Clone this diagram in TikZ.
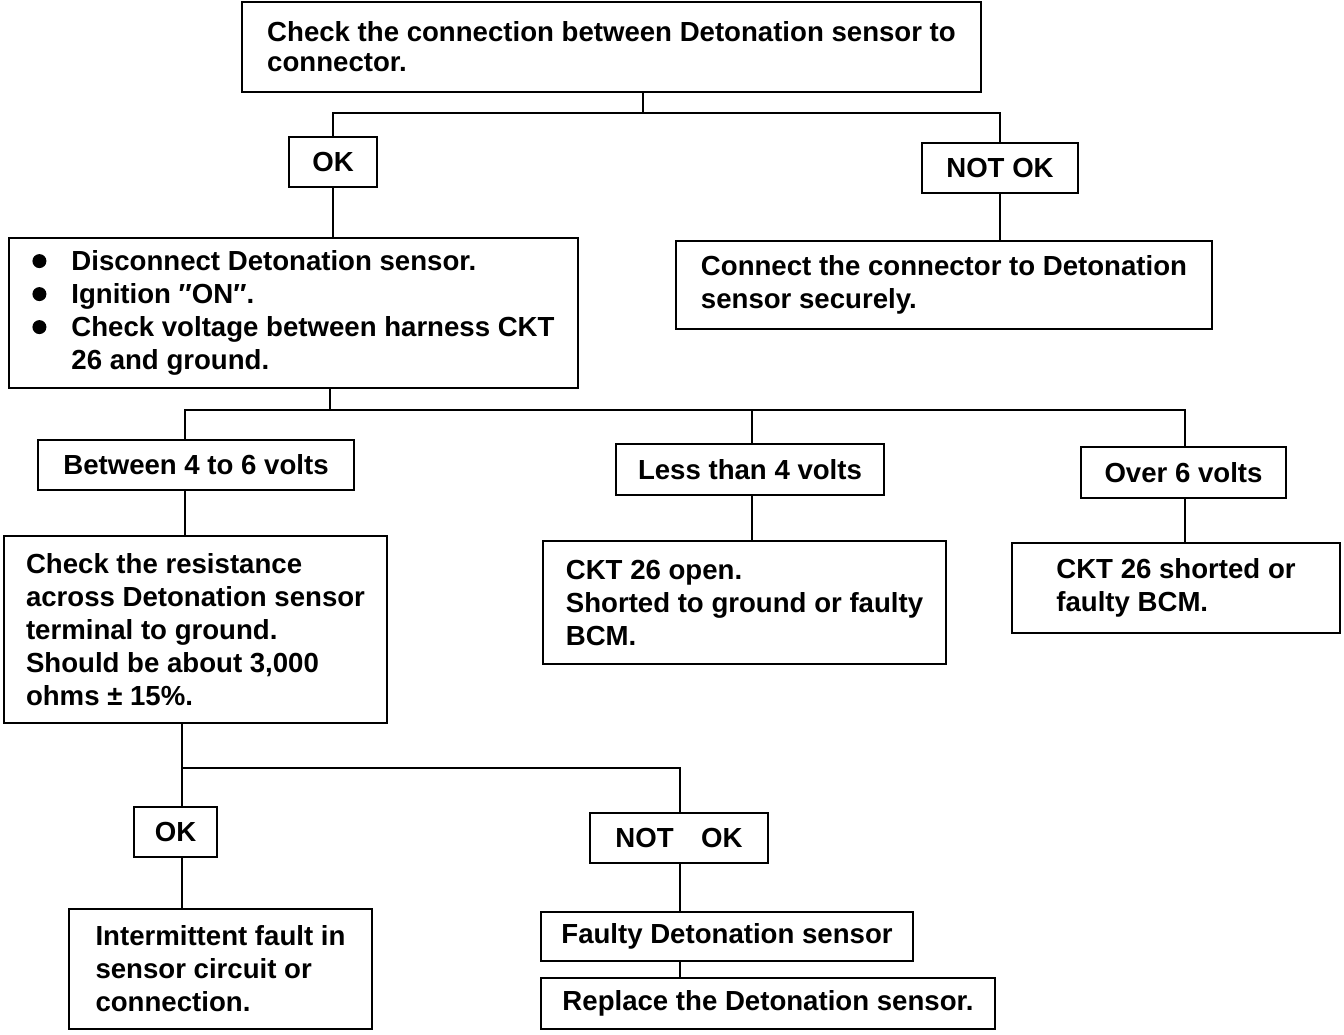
\documentclass[tikz,border=0pt]{standalone}
\usepackage{fontspec}
\setmainfont{Liberation Sans}
\newcommand{\bul}{\tikz[baseline=0pt]\fill (7pt,9pt) circle (7pt);}
\begin{document}
\begin{tikzpicture}[x=1pt,y=-1pt, line width=2.8pt,
  box/.style={draw, line width=2.8pt, inner sep=0pt, align=left,
    font=\fontsize{27.6}{33}\selectfont\bfseries},
]
\useasboundingbox (0,0) rectangle (1344,1034);

\node[box, minimum width=739, minimum height=90, font=\fontsize{27.6}{30}\selectfont\bfseries] (top) at (611.5,47)
  {Check the connection between Detonation sensor to\\connector.};
\node[box, minimum width=88, minimum height=50] (ok1) at (333,162) {OK};
\node[box, minimum width=156, minimum height=50] (nok1) at (1000,168) {NOT OK};

\node[box, minimum width=569, minimum height=150] (b5) at (293.5,313)
  {\begin{tabular}{@{}p{39pt}@{}l@{}}
   \bul & Disconnect Detonation sensor.\\
   \bul & Ignition ″ON″.\\
   \bul & Check voltage between harness CKT\\
        & 26 and ground.
   \end{tabular}};
\node[box, minimum width=536, minimum height=88] (b6) at (944,285)
  {Connect the connector to Detonation\\sensor securely.};

\node[box, minimum width=316, minimum height=50] (btw) at (196,465) {Between 4 to 6 volts};
\node[box, minimum width=268, minimum height=51] (less) at (750,469.5) {Less than 4 volts};
\node[box, minimum width=205, minimum height=51] (over) at (1183.5,472.5) {Over 6 volts};

\node[box, minimum width=383, minimum height=187] (b11) at (195.5,629.5)
  {Check the resistance\\across Detonation sensor\\terminal to ground.\\Should be about 3,000\\ohms ± 15\%.};
\node[box, minimum width=403, minimum height=123] (b12) at (744.5,602.5)
  {CKT 26 open.\\Shorted to ground or faulty\\BCM.};
\node[box, minimum width=328, minimum height=90] (b13) at (1176,588)
  {CKT 26 shorted or\\faulty BCM.};

\node[box, minimum width=83, minimum height=50] (ok2) at (175.5,832) {OK};
\node[box, minimum width=178, minimum height=50] (nok2) at (679,838) {NOT\quad OK};
\node[box, minimum width=303, minimum height=120] (b15) at (220.5,969)
  {Intermittent fault in\\sensor circuit or\\connection.};
\node[box, minimum width=372, minimum height=49] (faulty) at (727,936.5) {Faulty Detonation sensor};
\node[box, minimum width=454, minimum height=51] (replace) at (768,1003.5) {Replace the Detonation sensor.};

% connectors
\coordinate (j1) at (643,113);
\draw (top.south -| j1) -- (j1);
\draw (ok1.north) |- (j1) -| (nok1.north);
\draw (ok1.south) -- (ok1.south |- b5.north);
\draw (nok1.south) -- (nok1.south |- b6.north);

\coordinate (j2) at (330,410);
\coordinate (ja) at (185,410);
\coordinate (jc) at (752,410);
\coordinate (jd) at (1185,410);
\draw (b5.south -| j2) -- (j2);
\draw (ja |- btw.north) -- (ja) -- (jd) -- (jd |- over.north);
\draw (jc) -- (jc |- less.north);
\draw (ja |- btw.south) -- (ja |- b11.north);
\draw (jc |- less.south) -- (jc |- b12.north);
\draw (jd |- over.south) -- (jd |- b13.north);

\coordinate (jk) at (182,768);
\coordinate (jl) at (680,768);
\draw (jk |- b11.south) -- (jk) -- (jl) -- (jl |- nok2.north);
\draw (jk) -- (jk |- ok2.north);
\draw (jk |- ok2.south) -- (jk |- b15.north);
\draw (jl |- nok2.south) -- (jl |- faulty.north);
\draw (jl |- faulty.south) -- (jl |- replace.north);
\end{tikzpicture}
\end{document}
